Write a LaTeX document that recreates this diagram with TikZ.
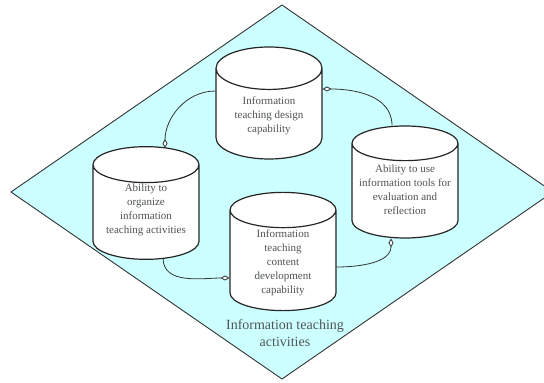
\documentclass[tikz,border=0pt]{standalone}
\usepackage{fontspec}
\setmainfont{Liberation Serif}
\usetikzlibrary{shapes.geometric,arrows.meta,calc}
\definecolor{pale}{RGB}{204,255,255}
\definecolor{ink}{RGB}{80,84,84}

\begin{document}
\begin{tikzpicture}[x=1pt, y=1pt, thick,
        cyl/.style = {draw=black!85, line width=1.2pt, fill=white, cylinder, shape border rotate=90, aspect=0.6,
            minimum width=106pt, minimum height=112pt, inner sep=1pt, align=center, text=ink,
            font=\fontsize{11}{14}\selectfont, anchor=shape center},
        link/.style = {draw=black!80, line width=0.8pt, arrows={Diamond[fill=white,length=9pt,width=5pt]-}}]

            \useasboundingbox (0,0) rectangle (544,383);
            \clip (0,0) rectangle (544,383);
            \draw[fill=pale, draw=black!80, line width=0.9pt] (11,191) -- (282,378) -- (553,191) -- (282,4) -- cycle;

            \node[cyl] (design) at (269,280) {Information\\teaching design\\capability};
            \node[cyl, aspect=0.44, text depth=10pt] (organize) at (146,180) {Ability to\\organize\\information\\teaching activities};
            \node[cyl, aspect=0.37, text depth=6pt] (reflect) at (405,201) {Ability to use\\information tools for\\evaluation and\\reflection};
            \node[cyl] (content) at (283,131.5) {Information\\teaching\\content\\development\\capability};
            \node[font=\fontsize{14}{17}\selectfont, text=ink, align=center] (area) at (285,50) {Information teaching\\activities};

            \draw[link] ($(organize.shape center)+(19,55)$) to[out=90, in=180] ($(design.shape center)+(-53.5,12)$);
            \draw[link] ($(design.shape center)+(53.5,14)$) to[out=0, in=90] ($(reflect.shape center)+(-13,56.5)$);
            \draw[link] ($(reflect.shape center)+(-14,-56.4)$) to[out=270, in=0] ($(content.shape center)+(53.5,-15.5)$);
            \draw[link] ($(content.shape center)+(-53.5,-26.5)$) to[out=180, in=270] ($(organize.shape center)+(17,-55)$);

\end{tikzpicture}
\end{document}
